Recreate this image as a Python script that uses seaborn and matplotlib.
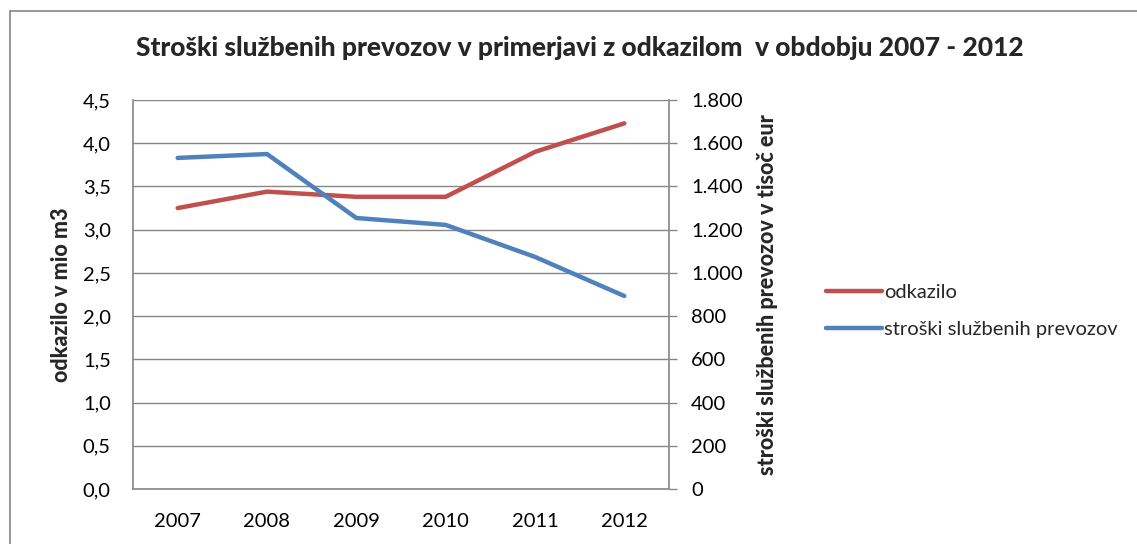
import matplotlib
matplotlib.use("Agg")
import matplotlib.pyplot as plt
import seaborn as sns
import pandas as pd
from matplotlib.ticker import FuncFormatter, MultipleLocator
from matplotlib.patches import Rectangle

# data
years = ["2007", "2008", "2009", "2010", "2011", "2012"]
odkazilo = [3.25, 3.44, 3.38, 3.38, 3.90, 4.23]          # mio m3
stroski = [1532, 1550, 1254, 1222, 1074, 893]            # tisoč eur

df = pd.DataFrame({"pos": range(len(years)), "leto": years,
                   "odkazilo": odkazilo, "stroski": stroski})

sns.set_theme(style="white")
plt.rcParams["font.family"] = ["Lato", "DejaVu Sans"]

red = "#C0504D"
blue = "#4F81BD"
grey = "#868686"
fs = 14.5

fig = plt.figure(figsize=(11.37, 5.44), dpi=100)
ax = fig.add_axes([133 / 1137, 1 - 489 / 544, (669 - 133) / 1137, (489 - 100) / 544])
ax2 = ax.twinx()

sns.lineplot(data=df, x="pos", y="odkazilo", ax=ax, color=red, lw=3.2,
             label="odkazilo", legend=False)
sns.lineplot(data=df, x="pos", y="stroski", ax=ax2, color=blue, lw=3.2,
             label="stroški službenih prevozov", legend=False)

ax.set_xlim(-0.5, len(years) - 0.5)
ax.set_xticks(df["pos"])
ax.set_xticklabels(years)
ax.set_ylim(0, 4.5)
ax.yaxis.set_major_locator(MultipleLocator(0.5))
ax.yaxis.set_major_formatter(FuncFormatter(lambda v, p: f"{v:.1f}".replace(".", ",")))
ax2.set_ylim(0, 1800)
ax2.yaxis.set_major_locator(MultipleLocator(200))
ax2.yaxis.set_major_formatter(FuncFormatter(lambda v, p: f"{int(v):,}".replace(",", ".")))

ax.grid(axis="y", color=grey, lw=1)
ax.set_axisbelow(True)
for a in (ax, ax2):
    for s in a.spines.values():
        s.set_visible(False)
ax.spines["left"].set_visible(True)
ax.spines["bottom"].set_visible(True)
ax2.spines["right"].set_visible(True)
for s in (ax.spines["left"], ax.spines["bottom"], ax2.spines["right"]):
    s.set_color(grey)
    s.set_linewidth(1.2)

ax.tick_params(axis="y", length=0, pad=16, labelsize=fs, colors="black")
ax.tick_params(axis="x", length=0, pad=17, labelsize=fs, colors="black")
ax2.tick_params(axis="y", length=6, width=1, color=grey, pad=10, labelsize=fs,
                labelcolor="black")

ax.set_xlabel("")
ax.set_ylabel("odkazilo v mio m3", fontsize=15.5, fontweight="black", labelpad=8)
ax2.set_ylabel("stroški službenih prevozov v tisoč eur", fontsize=15.5,
               fontweight="black", labelpad=10)

fig.text(0.51, 0.912, "Stroški službenih prevozov v primerjavi z odkazilom  v obdobju 2007 - 2012",
         ha="center", va="center", fontsize=19, fontweight="black")

h1, l1 = ax.get_legend_handles_labels()
h2, l2 = ax2.get_legend_handles_labels()
fig.legend(h1 + h2, l1 + l2, loc="center left", bbox_to_anchor=(826 / 1137, 0.428),
           frameon=False, fontsize=fs, handlelength=2.8, handletextpad=0.1,
           labelspacing=1.0, borderpad=0, borderaxespad=0)

# chart border (only top/left visible in the crop)
fig.patches.append(Rectangle((10 / 1137, -0.1), 1.2, 1 - 11 / 544 + 0.1,
                             transform=fig.transFigure, fill=False,
                             edgecolor=grey, lw=1.2))

fig.savefig("out.png", dpi=100)
